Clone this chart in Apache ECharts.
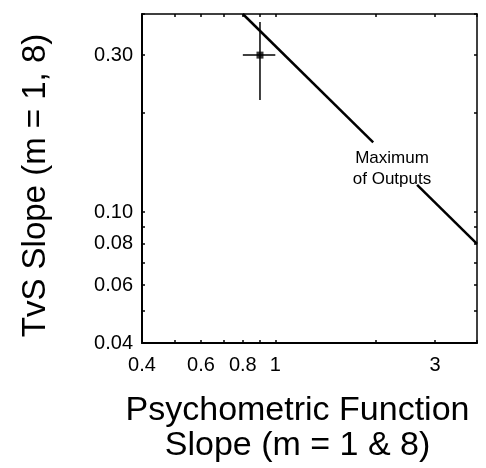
<!DOCTYPE html>
<html>
<head>
<meta charset="utf-8">
<script src="https://cdn.jsdelivr.net/npm/echarts@6/dist/echarts.min.js"></script>
<style>html,body{margin:0;padding:0;background:#fff;}#c{width:486px;height:468px;}</style>
</head>
<body>
<div id="c"></div>
<script>
// Tick values and labels
const xTicks = [0.4, 0.5, 0.6, 0.7, 0.8, 0.9, 1, 2, 3, 4];
const xLabels = [0.4, 0.6, 0.8, 1, 3];
const yTicks = [0.04, 0.05, 0.06, 0.07, 0.08, 0.09, 0.1, 0.2, 0.3, 0.4];
const yLabels = [0.04, 0.06, 0.08, 0.10, 0.30];

// "Maximum of Outputs" line (broken where the label sits)
const maxOutX1 = [0.8, 1.96];
const maxOutY1 = [0.4, 0.163];
const maxOutX2 = [2.65, 4];
const maxOutY2 = [0.121, 0.08];

// Data point with error bars
const pointX = [0.90];
const pointY = [0.30];
const errXLow = [0.80];
const errXHigh = [1.0];
const errYLow = [0.219];
const errYHigh = [0.378];

const FONT = '"Liberation Sans", Arial, Helvetica, sans-serif';
const chart = echarts.init(document.getElementById('c'), null, {renderer: 'canvas'});

const zip = (xs, ys) => xs.map((x, i) => [x, ys[i]]);

const axisCommon = {
  type: 'log', logBase: 10,
  axisLine: {show: true, lineStyle: {color: '#000', width: 2}},
  splitLine: {show: false},
  minorTick: {show: false}
};

chart.setOption({
  animation: false,
  backgroundColor: '#fff',
  grid: {left: 142, top: 14, right: 9, bottom: 125, containLabel: false, outerBoundsMode: 'none'},
  title: [{
    text: 'Maximum\nof Outputs',
    left: 387, top: 143, textAlign: 'center',
    textStyle: {fontFamily: FONT, fontSize: 17, fontWeight: 'normal', lineHeight: 21, color: '#000'}
  }],
  xAxis: [
    Object.assign({}, axisCommon, {
      min: 0.4, max: 4, position: 'bottom',
      name: 'Psychometric Function\nSlope (m = 1 & 8)',
      nameLocation: 'middle', nameGap: 50,
      nameTextStyle: {fontFamily: FONT, fontSize: 34, lineHeight: 35, color: '#000', padding: [0, 24, 0, 0]},
      axisTick: {show: true, inside: true, length: 3, customValues: xTicks, lineStyle: {color: '#000', width: 1.5}},
      axisLabel: {show: true, customValues: xLabels, margin: 12, fontFamily: FONT, fontSize: 20, color: '#000',
        formatter: v => String(+v.toFixed(2))}
    }),
    Object.assign({}, axisCommon, {
      min: 0.4, max: 4, position: 'top',
      axisLine: {show: true, lineStyle: {color: '#000', width: 1.5}},
      axisTick: {show: true, inside: true, length: 3, customValues: xTicks, lineStyle: {color: '#000', width: 1.5}},
      axisLabel: {show: false}
    })
  ],
  yAxis: [
    Object.assign({}, axisCommon, {
      min: 0.04, max: 0.4, position: 'left',
      name: 'TvS Slope (m = 1, 8)',
      nameLocation: 'middle', nameGap: 90, nameRotate: 90,
      nameTextStyle: {fontFamily: FONT, fontSize: 33, color: '#000', padding: [0, 14, 0, 0]},
      axisTick: {show: true, inside: true, length: 3, customValues: yTicks, lineStyle: {color: '#000', width: 1.5}},
      axisLabel: {show: true, customValues: yLabels, margin: 9, fontFamily: FONT, fontSize: 20, color: '#000',
        formatter: v => v.toFixed(2)}
    }),
    Object.assign({}, axisCommon, {
      min: 0.04, max: 0.4, position: 'right',
      axisLine: {show: true, lineStyle: {color: '#000', width: 1.5}},
      axisTick: {show: true, inside: true, length: 3, customValues: yTicks, lineStyle: {color: '#000', width: 1.5}},
      axisLabel: {show: false}
    })
  ],
  series: [
    {type: 'line', data: zip(maxOutX1, maxOutY1), symbol: 'none', lineStyle: {color: '#000', width: 2.5}, silent: true},
    {type: 'line', data: zip(maxOutX2, maxOutY2), symbol: 'none', lineStyle: {color: '#000', width: 2.5}, silent: true},
    {type: 'line', data: [[errXLow[0], pointY[0]], [errXHigh[0], pointY[0]]], symbol: 'none', lineStyle: {color: '#000', width: 1.5}, silent: true},
    {type: 'line', data: [[pointX[0], errYLow[0]], [pointX[0], errYHigh[0]]], symbol: 'none', lineStyle: {color: '#000', width: 1.5}, silent: true},
    {type: 'scatter', data: zip(pointX, pointY), symbol: 'rect', symbolSize: 7, itemStyle: {color: '#000'}, silent: true}
  ]
});
</script>
</body>
</html>
